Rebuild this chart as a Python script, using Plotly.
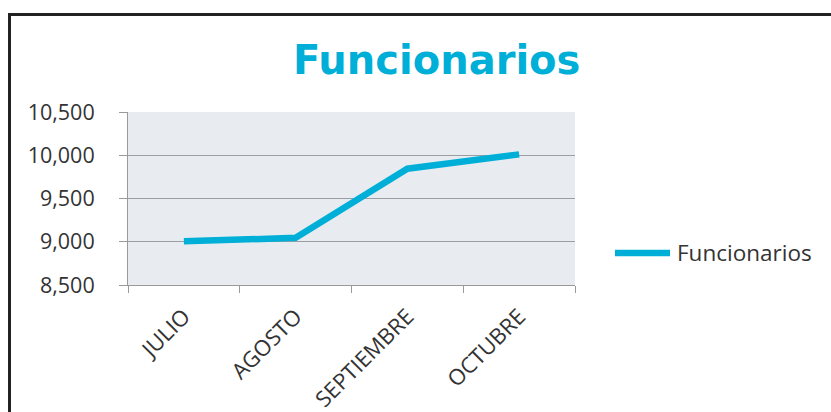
import plotly.graph_objects as go

W, H = 831, 412
months = ["JULIO", "AGOSTO", "SEPTIEMBRE", "OCTUBRE"]
funcionarios = [9005, 9045, 9845, 10010]
y_ticks = [8500, 9000, 9500, 10000, 10500]
series_name = "Funcionarios"
title_text = "Funcionarios"

CYAN = "#00AFD8"

def px(x):
    return x / W

def py(y):
    return 1 - y / H

fig = go.Figure()
fig.add_trace(go.Scatter(
    x=months, y=funcionarios, mode="lines", name=series_name,
    line=dict(color=CYAN, width=6.5), showlegend=False,
))

fig.update_layout(
    template="none",
    width=W, height=H,
    autosize=False,
    margin=dict(l=0, r=0, t=0, b=0, pad=0),
    paper_bgcolor="white",
    plot_bgcolor="#E8ECF1",
    xaxis=dict(
        domain=[px(128), px(575)],
        type="category",
        range=[-0.5, 3.5],
        tickson="boundaries",
        ticks="outside", ticklen=7, tickcolor="#9A9A9A", tickwidth=1,
        showline=True, linecolor="#9A9A9A", linewidth=1,
        showgrid=False, zeroline=False,
        tickangle=-45,
        automargin=False,
        ticklabelstandoff=9,
        tickfont=dict(family="Open Sans", size=22, color="#333333"),
        fixedrange=True,
    ),
    yaxis=dict(
        domain=[py(285), py(112)],
        range=[8500, 10500],
        tickvals=y_ticks,
        tickformat=",",
        ticks="outside", ticklen=8, tickcolor="#9A9A9A", tickwidth=1,
        showline=True, linecolor="#9A9A9A", linewidth=1,
        showgrid=True, gridcolor="#9A9EA4", gridwidth=1,
        zeroline=False,
        automargin=False,
        ticklabelstandoff=20,
        tickfont=dict(family="Open Sans", size=21.5, color="#333333"),
        fixedrange=True,
    ),
    showlegend=False,
)

# Title
fig.add_annotation(
    x=px(436), y=py(60), xref="paper", yref="paper",
    text="<b>" + title_text + "</b>", showarrow=False,
    xanchor="center", yanchor="middle",
    font=dict(family="DejaVu Sans", size=40, color=CYAN),
)

# Legend (manual)
fig.add_shape(type="line", xref="paper", yref="paper",
              x0=px(615), x1=px(670), y0=py(253), y1=py(253),
              line=dict(color=CYAN, width=6.5))
fig.add_annotation(
    x=px(675), y=py(253), xref="paper", yref="paper",
    text=series_name, showarrow=False, xanchor="left", yanchor="middle",
    font=dict(family="Open Sans", size=22.5, color="#333333"),
)

# Outer frame
fig.add_shape(type="rect", xref="paper", yref="paper",
              x0=px(9.5), x1=px(845), y0=py(430), y1=py(14.5),
              line=dict(color="#222222", width=3), fillcolor="rgba(0,0,0,0)",
              layer="above")

fig.write_html(
    "out.html",
    config={"displayModeBar": False},
    post_script="document.body.style.margin='0';document.body.style.overflow='hidden';",
)
